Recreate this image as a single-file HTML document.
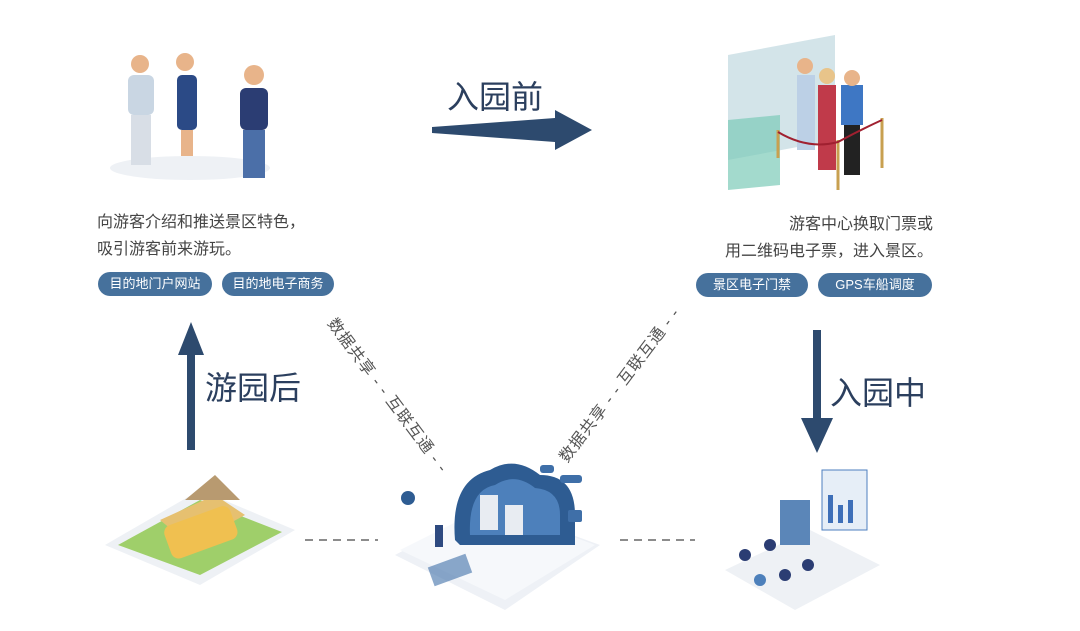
<!DOCTYPE html>
<html><head><meta charset="utf-8"><style>
html,body{margin:0;padding:0;background:#fff;}
body{width:1080px;height:631px;position:relative;overflow:hidden;font-family:"Liberation Sans","Noto Sans CJK SC",sans-serif;}
.t{position:absolute;font-size:16px;color:#444;line-height:27px;white-space:nowrap;}
.pill{position:absolute;height:24px;line-height:24px;border-radius:12px;background:#46719c;color:#fff;font-size:13px;text-align:center;}
.big{position:absolute;font-size:32px;color:#2b3f5e;white-space:nowrap;}
.rot{position:absolute;font-size:16px;color:#555;white-space:nowrap;transform-origin:0 0;letter-spacing:1px;}
svg{position:absolute;left:0;top:0;}
</style></head><body>
<svg width="1080" height="631">
 <polygon points="432,127 555,118 555,110 592,130 555,150 555,142 432,133" fill="#2d4a6e"/>
 <polygon points="187,450 187,355 178,355 191,322 204,355 195,355 195,450" fill="#2d4a6e"/>
 <polygon points="813,330 813,418 801,418 817,453 833,418 821,418 821,330" fill="#2d4a6e"/>
 <line x1="305" y1="540" x2="378" y2="540" stroke="#666" stroke-width="1.5" stroke-dasharray="8,6"/>
 <line x1="620" y1="540" x2="695" y2="540" stroke="#666" stroke-width="1.5" stroke-dasharray="8,6"/>
 <ellipse cx="190" cy="168" rx="80" ry="12" fill="#eef1f5"/>
 <rect x="128" y="75" width="26" height="40" rx="6" fill="#c9d6e3"/><rect x="131" y="115" width="20" height="50" fill="#d8dee6"/><circle cx="140" cy="64" r="9" fill="#e8b48a"/>
 <rect x="177" y="75" width="20" height="55" rx="5" fill="#2b4a86"/><rect x="181" y="130" width="12" height="26" fill="#e8b48a"/><circle cx="185" cy="62" r="9" fill="#e8b48a"/>
 <rect x="240" y="88" width="28" height="42" rx="6" fill="#2b3d73"/><rect x="243" y="130" width="22" height="48" fill="#4b6fa8"/><circle cx="254" cy="75" r="10" fill="#e8b48a"/>
 <polygon points="728,55 835,35 835,140 728,160" fill="#c8dde3" opacity="0.8"/>
 <polygon points="728,120 780,115 780,185 728,190" fill="#7ccbb8" opacity="0.7"/>
 <rect x="797" y="75" width="18" height="75" fill="#bcd0e6"/><circle cx="805" cy="66" r="8" fill="#e8b48a"/>
 <rect x="818" y="85" width="18" height="85" fill="#c03a4a"/><circle cx="827" cy="76" r="8" fill="#e8c48a"/>
 <rect x="841" y="85" width="22" height="40" fill="#3e77c4"/><rect x="844" y="125" width="16" height="50" fill="#222"/><circle cx="852" cy="78" r="8" fill="#e8b48a"/>
 <line x1="778" y1="130" x2="778" y2="158" stroke="#c8a050" stroke-width="3"/><line x1="838" y1="140" x2="838" y2="190" stroke="#c8a050" stroke-width="3"/><line x1="882" y1="118" x2="882" y2="168" stroke="#c8a050" stroke-width="3"/>
 <path d="M778,132 Q808,150 838,142 Q860,130 882,120" stroke="#a02030" stroke-width="2" fill="none"/>
 <polygon points="105,545 200,490 295,530 200,585" fill="#eef1f5"/>
 <polygon points="118,545 200,500 282,532 200,575" fill="#9fcf6a"/>
 <polygon points="160,520 215,495 245,515 190,545" fill="#e6c070"/>
 <rect x="165" y="515" width="70" height="35" rx="8" fill="#f0c050" transform="rotate(-20 200 530)"/>
 <polygon points="185,500 215,475 240,500" fill="#b89a70"/>
 <polygon points="395,555 490,505 600,545 505,610" fill="#eef1f6"/>
 <polygon points="400,550 490,505 595,545 505,600" fill="#f6f8fb"/>
 <path d="M455,540 Q450,480 490,470 Q515,455 540,475 Q575,475 575,515 L575,545 L460,545 Z" fill="#2e5c92"/>
 <path d="M470,535 Q468,490 495,485 Q515,472 535,488 Q560,490 560,515 L560,535 Z" fill="#4d80bb"/>
 <rect x="480" y="495" width="18" height="35" fill="#e8ecf2"/><rect x="505" y="505" width="18" height="30" fill="#e8ecf2"/>
 <rect x="540" y="465" width="14" height="8" rx="3" fill="#3f6fa8"/><rect x="560" y="475" width="22" height="8" rx="3" fill="#3f6fa8"/><rect x="568" y="510" width="14" height="12" rx="2" fill="#3f6fa8"/>
 <circle cx="408" cy="498" r="7" fill="#2e5c92"/>
 <rect x="435" y="525" width="8" height="22" fill="#2e4a80"/><rect x="430" y="560" width="40" height="20" fill="#3f6fa8" opacity="0.6" transform="rotate(-20 450 570)"/>
 <polygon points="725,570 810,530 880,565 795,610" fill="#eef1f5"/>
 <rect x="780" y="500" width="30" height="45" fill="#5b86b8"/><rect x="822" y="470" width="45" height="60" fill="#e6eef7" stroke="#4d7fbf"/>
 <rect x="828" y="495" width="5" height="28" fill="#3e6fb8"/><rect x="838" y="505" width="5" height="18" fill="#3e6fb8"/><rect x="848" y="500" width="5" height="23" fill="#3e6fb8"/>
 <circle cx="745" cy="555" r="6" fill="#2b3d73"/><circle cx="770" cy="545" r="6" fill="#2b3d73"/><circle cx="785" cy="575" r="6" fill="#2b3d73"/><circle cx="808" cy="565" r="6" fill="#2b3d73"/><circle cx="760" cy="580" r="6" fill="#4d80bb"/>
</svg>
<div class="t" style="left:97px;top:209px;">向游客介绍和推送景区特色，<br>吸引游客前来游玩。</div>
<div class="pill" style="left:98px;top:272px;width:114px;">目的地门户网站</div>
<div class="pill" style="left:222px;top:272px;width:112px;">目的地电子商务</div>
<div class="t" style="left:690px;top:211px;width:243px;text-align:right;">游客中心换取门票或<br>用二维码电子票，进入景区。</div>
<div class="pill" style="left:696px;top:273px;width:112px;">景区电子门禁</div>
<div class="pill" style="left:818px;top:273px;width:114px;">GPS车船调度</div>
<div class="big" style="left:447px;top:72px;">入园前</div>
<div class="big" style="left:205px;top:363px;">游园后</div>
<div class="big" style="left:830px;top:368px;">入园中</div>
<div class="rot" style="left:342px;top:312px;transform:rotate(53deg);">数据共享 - - 互联互通 - -</div>
<div class="rot" style="left:552px;top:452px;transform:rotate(-53deg);">数据共享 - - 互联互通 - -</div>
</body></html>
